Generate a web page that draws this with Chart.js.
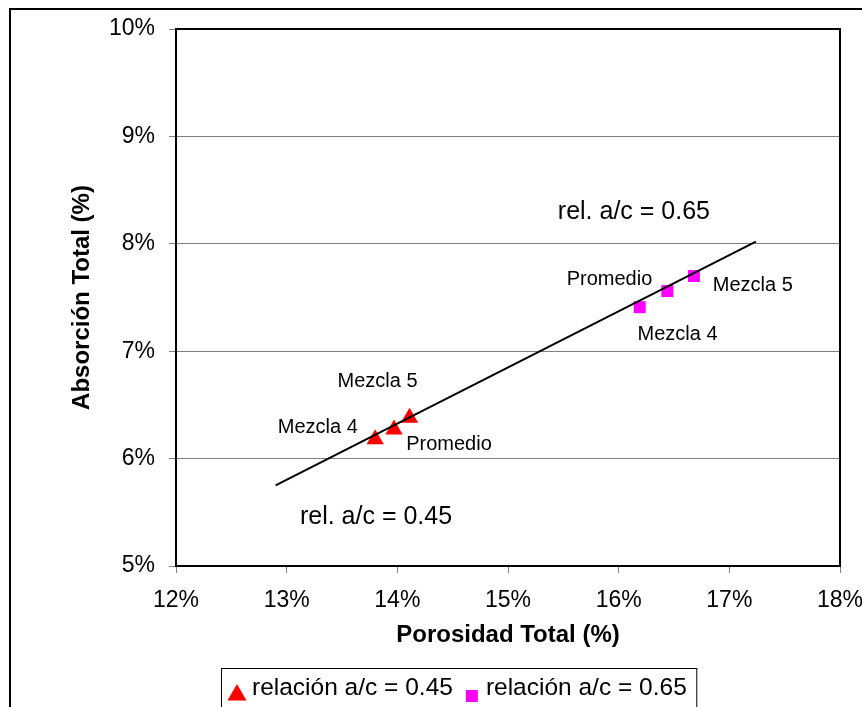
<!DOCTYPE html>
<html>
<head>
<meta charset="utf-8">
<script src="https://cdn.jsdelivr.net/npm/chart.js@4"></script>
<style>
  html, body { margin: 0; padding: 0; background: #fff; }
  canvas { display: block; }
</style>
</head>
<body>
<canvas id="chart" width="862" height="707"></canvas>
<script>
// porosidad total (%) vs absorción total (%)
const porosidad045 = [13.80, 13.97, 14.11];
const absorcion045 = [6.18, 6.27, 6.38];
const porosidad065 = [16.19, 16.44, 16.68];
const absorcion065 = [7.41, 7.56, 7.70];

// trend line end points
const tendenciaX = [12.90, 17.24];
const tendenciaY = [5.75, 8.02];

const xTicks = [12, 13, 14, 15, 16, 17, 18];
const yTicks = [5, 6, 7, 8, 9, 10];

// text labels placed in data units (left edge, baseline)
const etiquetas = [
  { text: 'rel. a/c = 0.65', x: 15.45, y: 8.23, size: 25 },
  { text: 'rel. a/c = 0.45', x: 13.12, y: 5.39, size: 25 },
  { text: 'Mezcla 5', x: 13.46, y: 6.67, size: 20 },
  { text: 'Mezcla 4', x: 12.92, y: 6.24, size: 20 },
  { text: 'Promedio', x: 14.08, y: 6.08, size: 20 },
  { text: 'Promedio', x: 15.53, y: 7.62, size: 20 },
  { text: 'Mezcla 5', x: 16.85, y: 7.56, size: 20 },
  { text: 'Mezcla 4', x: 16.17, y: 7.10, size: 20 }
];

const FONT = '"Liberation Sans", Arial, sans-serif';

const toPoints = (xs, ys) => xs.map((x, i) => ({ x: x, y: ys[i] }));

const framePlugin = {
  id: 'frame',
  beforeDraw(chart) {
    const ctx = chart.ctx;
    ctx.save();
    ctx.fillStyle = '#fff';
    ctx.fillRect(0, 0, chart.width, chart.height);
    // outer chart border (open at right and bottom)
    ctx.strokeStyle = '#000';
    ctx.lineWidth = 2;
    ctx.beginPath();
    ctx.moveTo(10, chart.height);
    ctx.lineTo(10, 9);
    ctx.lineTo(chart.width, 9);
    ctx.stroke();
    ctx.restore();
  },
  beforeDatasetsDraw(chart) {
    const { ctx, chartArea: a } = chart;
    ctx.save();
    ctx.strokeStyle = '#000';
    ctx.lineWidth = 2;
    ctx.strokeRect(a.left, a.top, a.right - a.left, a.bottom - a.top);
    ctx.restore();
  }
};

const labelsPlugin = {
  id: 'etiquetas',
  afterDatasetsDraw(chart) {
    const { ctx, scales } = chart;
    ctx.save();
    ctx.fillStyle = '#000';
    ctx.textAlign = 'left';
    ctx.textBaseline = 'alphabetic';
    etiquetas.forEach(e => {
      ctx.font = e.size + 'px ' + FONT;
      ctx.fillText(e.text, scales.x.getPixelForValue(e.x), scales.y.getPixelForValue(e.y));
    });
    ctx.restore();
  }
};

// boxed legend under the x axis title
const legendPlugin = {
  id: 'leyendaCaja',
  afterDraw(chart) {
    const ctx = chart.ctx;
    const sets = chart.data.datasets.slice(0, 2);
    ctx.save();
    ctx.font = '24.5px ' + FONT;
    ctx.textBaseline = 'alphabetic';
    let x = 237;
    const baseline = 695;
    let end = x;
    sets.forEach((ds, i) => {
      ctx.fillStyle = ds.backgroundColor;
      Chart.helpers.drawPoint(ctx, {
        pointStyle: ds.pointStyle,
        radius: ds.pointStyle === 'triangle' ? 11 : ds.pointRadius,
        borderWidth: 0
      }, x, ds.pointStyle === 'triangle' ? 695 : 696);
      const tx = x + (i === 0 ? 15 : 14);
      ctx.fillStyle = '#000';
      ctx.fillText(ds.label, tx, baseline);
      end = tx + ctx.measureText(ds.label).width;
      x = end + 19;
    });
    ctx.strokeStyle = '#000';
    ctx.lineWidth = 1;
    ctx.strokeRect(221.5, 668.5, end + 10 - 221.5, 60);
    ctx.restore();
  }
};

new Chart(document.getElementById('chart'), {
  type: 'scatter',
  data: {
    datasets: [
      {
        label: 'relación a/c = 0.45',
        data: toPoints(porosidad045, absorcion045),
        pointStyle: 'triangle',
        pointRadius: 10,
        pointHoverRadius: 10,
        backgroundColor: '#ff0000',
        borderWidth: 0,
        order: 2
      },
      {
        label: 'relación a/c = 0.65',
        data: toPoints(porosidad065, absorcion065),
        pointStyle: 'rect',
        pointRadius: 8.5,
        pointHoverRadius: 8.5,
        backgroundColor: '#ff00ff',
        borderWidth: 0,
        order: 2
      },
      {
        label: 'tendencia',
        data: toPoints(tendenciaX, tendenciaY),
        showLine: true,
        borderColor: '#000',
        borderWidth: 2,
        pointRadius: 0,
        pointHoverRadius: 0,
        fill: false,
        order: 1
      }
    ]
  },
  options: {
    responsive: false,
    animation: false,
    devicePixelRatio: 1,
    layout: { padding: { left: 0, top: 29, right: 22, bottom: 57 } },
    plugins: {
      legend: { display: false },
      tooltip: { enabled: false }
    },
    scales: {
      x: {
        type: 'linear',
        min: xTicks[0],
        max: xTicks[xTicks.length - 1],
        afterBuildTicks: s => { s.ticks = xTicks.map(v => ({ value: v })); },
        afterFit: s => { s.height = 84; s.paddingLeft = 0; s.paddingRight = 0; },
        ticks: {
          callback: v => v + '%',
          font: { family: FONT, size: 23 },
          color: '#000',
          padding: 14,
          maxRotation: 0
        },
        grid: { drawOnChartArea: false, tickLength: 7, tickColor: '#808080' },
        border: { display: false },
        title: {
          display: true,
          text: 'Porosidad Total (%)',
          font: { family: FONT, size: 24, weight: 'bold' },
          color: '#000',
          padding: { top: 0, bottom: 0 }
        }
      },
      y: {
        type: 'linear',
        min: yTicks[0],
        max: yTicks[yTicks.length - 1],
        afterBuildTicks: s => { s.ticks = yTicks.map(v => ({ value: v })); },
        afterFit: s => { s.width = 176; s.paddingTop = 0; s.paddingBottom = 0; },
        ticks: {
          callback: v => v + '%',
          font: { family: FONT, size: 23 },
          color: '#000',
          padding: 14
        },
        grid: { color: '#808080', lineWidth: 1, tickLength: 7, tickColor: '#808080' },
        border: { display: false },
        title: {
          display: true,
          text: 'Absorción Total (%)',
          font: { family: FONT, size: 24, weight: 'bold' },
          color: '#000',
          padding: { top: 68, bottom: 0 }
        }
      }
    }
  },
  plugins: [framePlugin, labelsPlugin, legendPlugin]
});
</script>
</body>
</html>
